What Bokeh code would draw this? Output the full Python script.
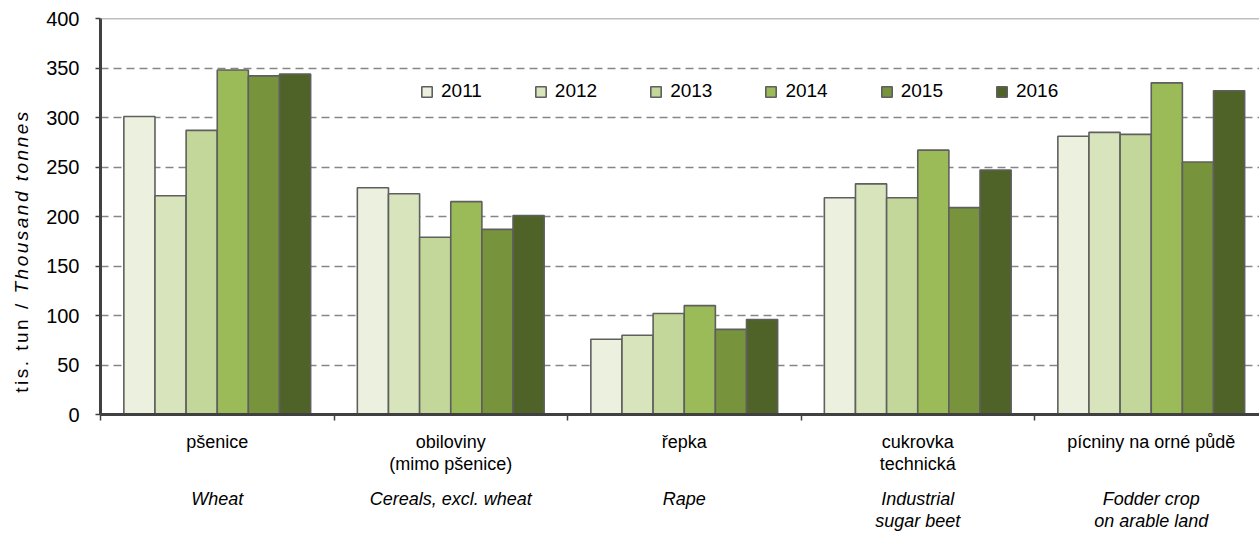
from bokeh.plotting import figure
from bokeh.models import (Range1d, FixedTicker, Legend, LegendItem, Span,
                          ColumnDataSource, LinearAxis, Div)
from bokeh.layouts import row
from bokeh.embed import file_html
from bokeh.resources import INLINE

# ---------------- data ----------------
years = ["2011", "2012", "2013", "2014", "2015", "2016"]
categories_cz = ["pšenice", "obiloviny\n(mimo pšenice)", "řepka",
                 "cukrovka\ntechnická", "pícniny na orné půdě"]
categories_en = ["Wheat", "Cereals, excl. wheat", "Rape",
                 "Industrial\nsugar beet", "Fodder crop\non arable land"]
v2011 = [301, 229, 76, 219, 281]
v2012 = [221, 223, 80, 233, 285]
v2013 = [287, 179, 102, 219, 283]
v2014 = [348, 215, 110, 267, 335]
v2015 = [342, 187, 86, 209, 255]
v2016 = [344, 201, 96, 247, 327]
series = [v2011, v2012, v2013, v2014, v2015, v2016]
colors = ["#EBF1DE", "#D8E4BC", "#C4D79B", "#9BBB59", "#77933C", "#4F6228"]
y_ticks = [0, 50, 100, 150, 200, 250, 300, 350, 400]
y_label_cz = "tis. tun /"
y_label_en = "Thousand tonnes"

FONT = "Liberation Sans"
FS = "20px"
FS_CAT = "18px"

ncat = len(categories_cz)
group_w = 0.8
bw = group_w / len(years)
centers = [i + 0.5 for i in range(ncat)]
bounds = list(range(ncat + 1))

DIV_W = 40
W, H = 1259 - DIV_W, 533
p = figure(width=W, height=H, output_backend="svg", toolbar_location=None,
           x_range=Range1d(0, 1159 / 233.5), y_range=Range1d(0, 400),
           min_border_left=100 - DIV_W, min_border_right=0, min_border_top=18,
           min_border_bottom=118)
p.outline_line_color = None
p.background_fill_color = "white"
p.border_fill_color = "white"

renderers = []
for j, (yr, vals, col) in enumerate(zip(years, series, colors)):
    xs = [c + (j - (len(years) - 1) / 2) * bw for c in centers]
    src = ColumnDataSource(dict(x=xs, top=vals))
    r = p.vbar(x="x", top="top", width=bw, bottom=0, source=src,
               fill_color=col, line_color="#5f5f5f", line_width=1.6)
    renderers.append((yr, r))

# grid
p.xgrid.visible = False
p.ygrid.ticker = FixedTicker(ticks=y_ticks)
p.ygrid.grid_line_color = "#868686"
p.ygrid.grid_line_width = 1.5
p.ygrid.grid_line_dash = "8 5"
p.add_layout(Span(location=400, dimension="width", line_color="#7f7f7f", line_width=1.5))

# y axis
ya = p.yaxis[0]
ya.ticker = FixedTicker(ticks=y_ticks)
ya.axis_line_color = "#404040"
ya.axis_line_width = 3
ya.major_tick_line_color = "#404040"
ya.major_tick_line_width = 1.5
ya.major_tick_out = 5
ya.major_tick_in = 0
ya.minor_tick_line_color = None
ya.major_label_text_font = FONT
ya.major_label_text_font_size = FS
ya.major_label_text_color = "black"
ya.major_label_standoff = 16

# x axis: ticks at category boundaries (minor), Czech labels at centers
xa = p.xaxis[0]
xa.ticker = FixedTicker(ticks=centers, minor_ticks=bounds)
xa.axis_line_color = "#404040"
xa.axis_line_width = 3
xa.major_tick_line_color = None
xa.major_tick_out = 0
xa.major_tick_in = 0
xa.minor_tick_line_color = "#404040"
xa.minor_tick_line_width = 1.5
xa.minor_tick_out = 6
xa.minor_tick_in = 0
xa.major_label_overrides = {c: t for c, t in zip(centers, categories_cz)}
xa.major_label_text_font = FONT
xa.major_label_text_font_size = FS_CAT
xa.major_label_text_color = "black"
xa.major_label_text_line_height = 1.1
xa.major_label_standoff = 11

# second axis: English italic labels
xa2 = LinearAxis(ticker=FixedTicker(ticks=centers))
xa2.major_label_overrides = {c: t for c, t in zip(centers, categories_en)}
xa2.axis_line_color = None
xa2.major_tick_line_color = None
xa2.minor_tick_line_color = None
xa2.major_tick_out = 0
xa2.major_tick_in = 0
xa2.major_label_text_font = FONT
xa2.major_label_text_font_size = FS_CAT
xa2.major_label_text_font_style = "italic"
xa2.major_label_text_color = "black"
xa2.major_label_text_line_height = 1.1
xa2.major_label_standoff = 12
p.add_layout(xa2, "below")

# legend
legend = Legend(items=[LegendItem(label=yr, renderers=[r]) for yr, r in renderers],
                orientation="horizontal", location=(320, 312),
                glyph_width=13, glyph_height=13, label_standoff=8,
                spacing=52, padding=0, margin=0,
                border_line_color=None, background_fill_alpha=0,
                label_text_font=FONT, label_text_font_size="19px",
                label_text_color="black", label_width=40)
p.add_layout(legend)

# y-axis title with mixed styles
ylab = Div(width=DIV_W, height=H, margin=0, text=(
    '<div style="position:relative;width:%dpx;height:%dpx;">'
    '<div style="position:absolute;left:22px;top:251px;'
    'transform:translate(-50%%,-50%%) rotate(-90deg);white-space:nowrap;'
    "font-family:'Liberation Sans';font-size:19px;letter-spacing:2.5px;color:black;\">"
    '%s <i>%s</i></div></div>') % (DIV_W, H, y_label_cz, y_label_en))

layout = row(ylab, p, spacing=0)
open("out.html", "w").write(file_html(layout, INLINE))
